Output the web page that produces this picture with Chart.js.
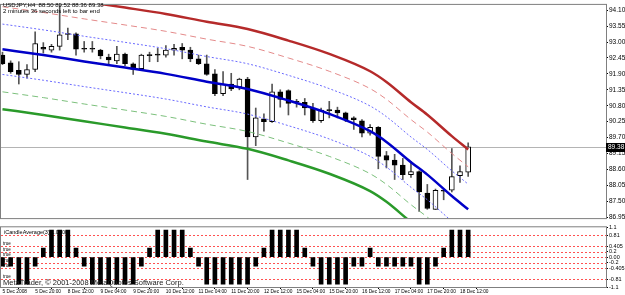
<!DOCTYPE html>
<html>
<head>
<meta charset="utf-8">
<script src="https://cdn.jsdelivr.net/npm/chart.js@4.4.0/dist/chart.umd.min.js"></script>
<style>
  html, body { margin: 0; padding: 0; background: #fff; }
  #wrap { position: relative; width: 625px; height: 295px; overflow: hidden; }
  #main { position: absolute; left: 0; top: 0; }
  #sub { position: absolute; left: 0; top: 223px; }
</style>
</head>
<body>
<div id="wrap">
  <canvas id="main" width="625" height="223"></canvas>
  <canvas id="sub" width="625" height="72"></canvas>
</div>
<script>
// Bougies H4
const symbol = 'USDJPY,H4';
const opens  = [92.55, 92.28, 92.02, 91.88, 92.05, 92.82, 92.72, 92.85, 93.26, 93.28,
                92.75, 92.78, 92.72, 92.48, 92.35, 92.58, 92.25, 92.08, 92.53, 92.55,
                92.55, 92.72, 92.82, 92.72, 92.42, 92.25, 91.90, 91.22, 91.55, 91.45,
                91.72, 89.72, 90.35, 90.25, 91.28, 91.32, 90.92, 90.92, 90.72, 90.28,
                90.63, 90.65, 90.55, 90.38, 90.28, 89.85, 90.05, 89.08, 88.92, 88.75,
                88.42, 88.52, 87.78, 87.22, 87.85, 87.88, 88.38, 88.50];
const highs  = [92.65, 92.35, 92.32, 92.22, 93.35, 92.98, 92.92, 94.25, 93.48, 93.32,
                93.02, 93.02, 92.75, 92.58, 92.85, 92.62, 92.28, 92.58, 92.65, 92.78,
                92.88, 92.92, 92.95, 92.82, 92.55, 92.55, 92.05, 91.98, 91.92, 91.75,
                91.78, 90.72, 90.52, 91.55, 91.35, 91.35, 91.02, 91.05, 90.88, 90.72,
                90.95, 90.75, 90.58, 90.42, 90.32, 90.15, 90.08, 89.22, 89.12, 88.98,
                88.88, 88.55, 88.08, 87.92, 87.88, 89.32, 88.72, 89.52];
const lows   = [92.22, 91.92, 91.55, 91.75, 91.98, 92.62, 92.65, 92.72, 93.08, 92.55,
                92.65, 92.65, 92.42, 92.25, 92.25, 92.18, 91.88, 92.05, 92.32, 92.32,
                92.48, 92.55, 92.42, 92.32, 92.22, 91.85, 91.15, 91.15, 91.32, 91.35,
                88.25, 89.42, 89.92, 90.22, 90.75, 90.48, 90.75, 90.48, 90.22, 90.22,
                90.38, 90.38, 90.25, 89.98, 89.72, 89.78, 88.62, 88.65, 88.25, 88.25,
                88.32, 87.15, 87.22, 87.22, 87.55, 87.82, 88.15, 88.36];
const closes = [92.25, 91.98, 91.88, 92.05, 92.95, 92.75, 92.85, 93.25, 93.28, 92.75,
                92.77, 92.75, 92.52, 92.38, 92.58, 92.25, 92.05, 92.55, 92.55, 92.58,
                92.72, 92.78, 92.72, 92.42, 92.25, 91.88, 91.22, 91.55, 91.38, 91.72,
                89.72, 90.38, 90.25, 91.28, 91.02, 90.88, 90.94, 90.72, 90.28, 90.65,
                90.65, 90.55, 90.32, 90.32, 89.85, 90.05, 89.05, 88.92, 88.75, 88.42,
                88.52, 87.82, 87.25, 87.88, 87.88, 88.35, 88.52, 89.38];

// Canal (lecture sur l'image, par barre)
const lineBars    = [0, 5, 10, 15, 20, 25, 30, 35, 40, 45, 47, 50, 52, 55, 57];
const midLine     = [92.75, 92.55, 92.33, 92.12, 91.90, 91.63, 91.38, 90.98, 90.52, 89.92, 89.55, 88.85, 88.42, 87.68, 87.22];
const upperDotted = [93.62, 93.42, 93.20, 92.99, 92.77, 92.50, 92.25, 91.85, 91.39, 90.79, 90.42, 89.72, 89.29, 88.55, 88.09];
const lowerDotted = [91.88, 91.68, 91.46, 91.25, 91.03, 90.76, 90.51, 90.11, 89.65, 89.05, 88.68, 87.98, 87.55, 86.81, 86.35];
const upperDashed = [94.22, 94.02, 93.80, 93.59, 93.37, 93.10, 92.85, 92.45, 91.99, 91.39, 91.02, 90.32, 89.89, 89.15, 88.69];
const lowerDashed = [91.28, 91.08, 90.86, 90.65, 90.43, 90.16, 89.91, 89.51, 89.05, 88.45, 88.08, 87.38, 86.95, 86.21, 85.75];
const upperSolid  = [94.82, 94.62, 94.40, 94.19, 93.97, 93.70, 93.45, 93.05, 92.59, 91.99, 91.62, 90.92, 90.49, 89.75, 89.29];
const lowerSolid  = [90.68, 90.48, 90.26, 90.05, 89.83, 89.56, 89.31, 88.91, 88.45, 87.85, 87.48, 86.78, 86.35, 85.61, 85.15];

const priceTicks = [94.10, 93.55, 93.00, 92.45, 91.90, 91.35, 90.80, 90.25, 89.70, 89.15, 88.60, 88.05, 87.50, 86.95];

// Indicateur du bas
const indicatorName = 'iCandleAverage(3)';
const candleAvg = [-0.33, -0.33, -1, -1, -0.33, 0.33, 1, 1, 1, 0.33,
                   -0.33, -1, -1, -1, -1, -1, -1, -0.33, 0.33, 1,
                   1, 1, 1, 0.33, -0.33, -1, -1, -1, -1, -1,
                   -1, -0.33, 0.33, 1, 1, 1, 1, 0.33, -0.33, -1,
                   -1, -1, -1, -0.33, -0.33, 0.33, -0.33, -0.33, -0.33, -0.33,
                   -0.33, -1, -1, -0.33, 0.33, 1, 1, 1];
const levelTicks  = [1.1, 0.81, 0.405, 0.2, 0, -0.2, -0.405, -0.81, -1.1];
const levelLabels = ['1.1', '0.81', '0.405', '0.2', '0.00', '-0.2', '-0.405', '-0.81', '-1.1'];
const levelLines  = [0.81, 0.405, 0.2, 0, -0.2, -0.405, -0.81];
const trueLevels  = [0.405, 0.2, 0, -0.2, -0.405, -0.81];

const timeBars   = [0, 4, 8, 12, 16, 20, 24, 28, 32, 36, 40, 44, 48, 52, 56];
const timeLabels = ['5 Dec 2008', '5 Dec 20:00', '8 Dec 12:00', '9 Dec 04:00', '9 Dec 20:00',
                    '10 Dec 12:00', '11 Dec 04:00', '11 Dec 20:00', '12 Dec 12:00', '15 Dec 04:00',
                    '15 Dec 20:00', '16 Dec 12:00', '17 Dec 04:00', '17 Dec 20:00', '18 Dec 12:00'];

Chart.defaults.font.family = "'Liberation Sans', Arial, sans-serif";
Chart.defaults.color = '#000';

const X_MIN = -0.18, X_MAX = 73.87;
const FRAME = '#7f7f7f';

function bandLine(values, color, width, dash) {
  return {
    type: 'line',
    data: lineBars.map((b, i) => ({ x: b, y: values[i] })),
    borderColor: color,
    borderWidth: width,
    borderDash: dash,
    pointRadius: 0,
    cubicInterpolationMode: 'monotone',
    order: 0
  };
}

const bodies = opens.map((o, i) => ({ x: i, y: [Math.min(o, closes[i]), Math.max(o, closes[i])] }));
const wicks  = opens.map((o, i) => ({ x: i, y: [lows[i], highs[i]] }));
const bodyColors = opens.map((o, i) => (closes[i] - o > 0.04 ? '#ffffff' : '#000000'));

// Cadre, ligne du dernier prix, textes
const mainDecor = {
  id: 'mainDecor',
  beforeDatasetsDraw(chart) {
    const { ctx, chartArea: a, scales: { y } } = chart;
    const py = Math.round(y.getPixelForValue(closes[closes.length - 1])) + 0.5;
    ctx.save();
    ctx.strokeStyle = '#b4b4b4';
    ctx.lineWidth = 1;
    ctx.beginPath(); ctx.moveTo(a.left, py); ctx.lineTo(a.right, py); ctx.stroke();
    ctx.restore();
  },
  afterDraw(chart) {
    const { ctx, chartArea: a, scales: { y } } = chart;
    const last = closes.length - 1;
    ctx.save();
    ctx.strokeStyle = FRAME;
    ctx.lineWidth = 1;
    ctx.strokeRect(a.left - 0.5, a.top - 0.5, a.right - a.left + 1, a.bottom - a.top + 1);

    const py = Math.round(y.getPixelForValue(closes[last]));
    ctx.fillStyle = '#000';
    ctx.fillRect(a.right, py - 4, 625 - a.right, 9);
    ctx.fillStyle = '#fff';
    ctx.font = "6.5px 'Liberation Sans'";
    ctx.textBaseline = 'middle';
    ctx.fillText(closes[last].toFixed(2), a.right + 2, py + 0.5);

    ctx.fillStyle = '#000';
    ctx.font = "6px 'Liberation Sans'";
    ctx.textBaseline = 'alphabetic';
    const ohlc = [opens[last], highs[last], lows[last], closes[last]].map(v => v.toFixed(2)).join(' ');
    ctx.fillText(symbol + '  ' + ohlc, 3, 7);
    ctx.fillText('2 minutes 36 seconds left to bar end', 3, 13);
    ctx.restore();
  }
};

new Chart(document.getElementById('main'), {
  type: 'bar',
  data: {
    datasets: [
      bandLine(upperSolid, '#b52a2a', 2.5, []),
      bandLine(upperDashed, '#e48a8a', 1, [6, 4]),
      bandLine(upperDotted, '#6a6aff', 1, [2, 2]),
      bandLine(midLine, '#0000c8', 2.5, []),
      bandLine(lowerDotted, '#6a6aff', 1, [2, 2]),
      bandLine(lowerDashed, '#7cc07c', 1, [6, 4]),
      bandLine(lowerSolid, '#2a9a2a', 2.5, []),
      {
        type: 'bar', data: bodies, backgroundColor: bodyColors, borderColor: '#000',
        borderWidth: 1, borderSkipped: false, barThickness: 5, minBarLength: 1,
        grouped: false, order: 1
      },
      {
        type: 'bar', data: wicks, backgroundColor: '#555555', barThickness: 1,
        grouped: false, order: 2
      }
    ]
  },
  options: {
    responsive: false,
    animation: false,
    layout: { padding: { left: 1, top: 1, right: 0, bottom: 1 } },
    plugins: { legend: { display: false }, tooltip: { enabled: false } },
    scales: {
      x: { type: 'linear', min: X_MIN, max: X_MAX, offset: false, display: false },
      y: {
        position: 'right', min: 86.917, max: 94.283,
        afterFit: s => { s.width = 19; },
        afterBuildTicks: s => { s.ticks = priceTicks.map(v => ({ value: v })); },
        ticks: { font: { size: 6.5 }, padding: 1, callback: v => v.toFixed(2) },
        grid: { drawOnChartArea: false, tickLength: 2, color: '#000' },
        border: { display: false }
      }
    }
  },
  plugins: [mainDecor]
});

const subDecor = {
  id: 'subDecor',
  beforeDatasetsDraw(chart) {
    const { ctx, chartArea: a, scales: { y } } = chart;
    ctx.save();
    ctx.strokeStyle = '#ff5050';
    ctx.lineWidth = 1;
    ctx.setLineDash([2, 2]);
    levelLines.forEach(v => {
      const py = Math.round(y.getPixelForValue(v)) + 0.5;
      ctx.beginPath(); ctx.moveTo(a.left, py); ctx.lineTo(a.right, py); ctx.stroke();
    });
    ctx.restore();
  },
  afterDraw(chart) {
    const { ctx, chartArea: a, scales: { y } } = chart;
    ctx.save();
    ctx.strokeStyle = FRAME;
    ctx.lineWidth = 1;
    ctx.strokeRect(a.left - 0.5, a.top - 0.5, a.right - a.left + 1, a.bottom - a.top + 1);
    ctx.fillStyle = '#000';
    ctx.font = "5.5px 'Liberation Sans'";
    ctx.fillText(indicatorName + ' ' + candleAvg[candleAvg.length - 1].toFixed(4), 4, a.top + 7);
    ctx.font = "4.5px 'Liberation Sans'";
    trueLevels.forEach(v => ctx.fillText('true', 3, y.getPixelForValue(v) - 1));
    ctx.font = "7.5px 'Liberation Sans'";
    ctx.fillStyle = '#222';
    ctx.fillText('MetaTrader, \u00a9 2001-2008 MetaQuotes Software Corp.', 3, a.bottom - 2);
    ctx.restore();
  }
};

new Chart(document.getElementById('sub'), {
  type: 'bar',
  data: {
    datasets: [{
      data: candleAvg.map((v, i) => ({ x: i, y: v })),
      backgroundColor: '#000', barThickness: 4, grouped: false
    }]
  },
  options: {
    responsive: false,
    animation: false,
    layout: { padding: { left: 1, top: 1, right: 0, bottom: 0 } },
    plugins: { legend: { display: false }, tooltip: { enabled: false } },
    scales: {
      x: {
        type: 'linear', min: X_MIN, max: X_MAX, offset: false,
        afterFit: s => { s.height = 8; },
        afterBuildTicks: s => { s.ticks = timeBars.map(v => ({ value: v })); },
        ticks: {
          align: 'start', autoSkip: false, maxRotation: 0, font: { size: 4.8 }, padding: 0,
          callback: v => timeLabels[timeBars.indexOf(v)]
        },
        grid: { drawOnChartArea: false, tickLength: 2, color: '#000' },
        border: { display: false }
      },
      y: {
        position: 'right', min: -1.1, max: 1.1,
        afterFit: s => { s.width = 19; },
        afterBuildTicks: s => { s.ticks = levelTicks.map(v => ({ value: v })); },
        ticks: { font: { size: 5.5 }, padding: 1, autoSkip: false, callback: v => levelLabels[levelTicks.indexOf(v)] },
        grid: { drawOnChartArea: false, tickLength: 2, color: '#000' },
        border: { display: false }
      }
    }
  },
  plugins: [subDecor]
});
</script>
</body>
</html>
